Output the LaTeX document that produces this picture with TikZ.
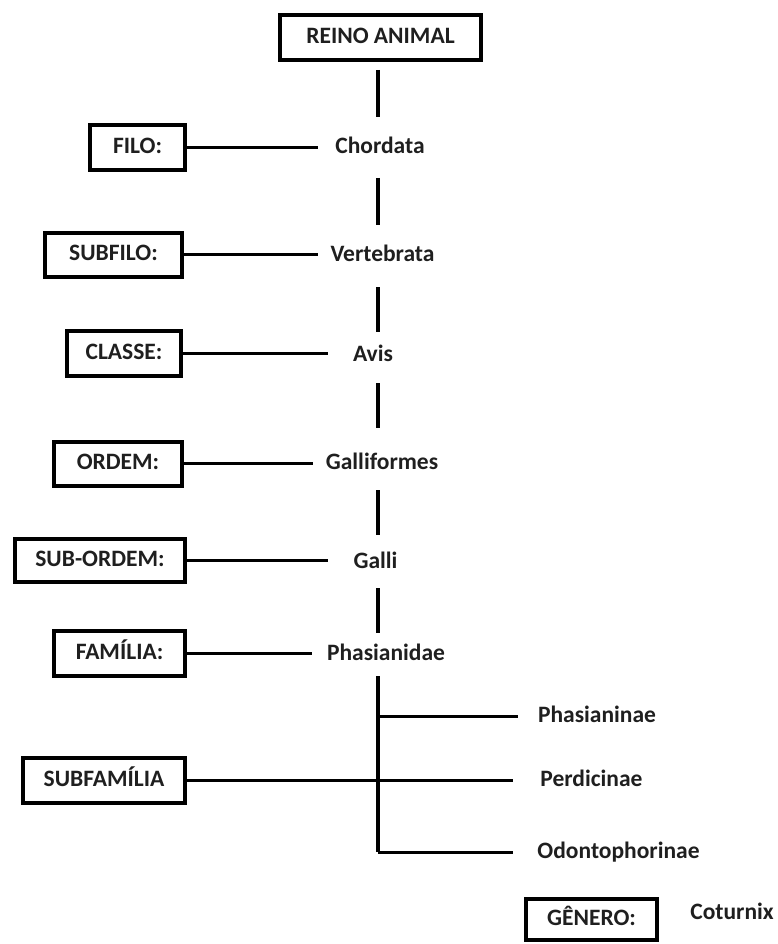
\documentclass[tikz,border=0pt]{standalone}
\usepackage{fontspec}
\setmainfont{Carlito}
\begin{document}
\begin{tikzpicture}[x=1pt,y=-1pt,
  every node/.style={font=\fontsize{23.5}{28}\selectfont\bfseries, text=black!88},
  rank/.style={draw=black, line width=4pt, inner sep=0pt, text height=17pt, text depth=5pt},
  taxon/.style={inner sep=0pt, text height=17pt, text depth=5pt},
  vlink/.style={line width=4pt},
  hlink/.style={line width=3pt}]
\useasboundingbox[fill=white] (0,0) rectangle (777,944);
\coordinate (axis) at (377.5,0);
% rank boxes
\node[rank, minimum width=201pt, minimum height=45pt] (reino) at (380.5,37.5) {REINO ANIMAL};
\node[rank, minimum width=95pt, minimum height=45pt] (filo) at (137.5,148) {FILO:};
\node[rank, minimum width=137pt, minimum height=44pt] (subfilo) at (113.5,254.5) {SUBFILO:};
\node[rank, minimum width=114pt, minimum height=45pt] (classe) at (124,353) {CLASSE:};
\node[rank, minimum width=128pt, minimum height=44pt] (ordem) at (118,463.5) {ORDEM:};
\node[rank, minimum width=170pt, minimum height=43pt] (subordem) at (100,560) {SUB-ORDEM:};
\node[rank, minimum width=131pt, minimum height=45pt] (familia) at (119.5,653) {FAMÍLIA:};
\node[rank, minimum width=162pt, minimum height=45pt] (subfamilia) at (104,780) {SUBFAMÍLIA};
\node[rank, minimum width=131pt, minimum height=41pt] (genero) at (591.5,919.5) {GÊNERO:};
% taxa
\node[taxon] (chordata) at (380,148) {Chordata};
\node[taxon] (vertebrata) at (382.5,255) {Vertebrata};
\node[taxon] (avis) at (373,355) {Avis};
\node[taxon] (galliformes) at (382,463) {Galliformes};
\node[taxon] (galli) at (375.5,562) {Galli};
\node[taxon] (phasianidae) at (386,654) {Phasianidae};
\node[taxon] (phasianinae) at (597,716) {Phasianinae};
\node[taxon] (perdicinae) at (591.5,780) {Perdicinae};
\node[taxon] (odonto) at (618.5,852) {Odontophorinae};
\node[taxon] (coturnix) at (732,913) {Coturnix};
% vertical trunk segments
\draw[vlink, shorten <=8pt, shorten >=31pt] (reino.south -| axis) -- (chordata.center -| axis);
\draw[vlink, shorten <=30pt, shorten >=30pt] (chordata.center -| axis) -- (vertebrata.center -| axis);
\draw[vlink, shorten <=32pt, shorten >=23pt] (vertebrata.center -| axis) -- (avis.center -| axis);
\draw[vlink, shorten <=28pt, shorten >=35pt] (avis.center -| axis) -- (galliformes.center -| axis);
\draw[vlink, shorten <=27pt, shorten >=27pt] (galliformes.center -| axis) -- (galli.center -| axis);
\draw[vlink, shorten <=26pt, shorten >=21pt] (galli.center -| axis) -- (phasianidae.center -| axis);
\draw[vlink, shorten <=22pt] (phasianidae.center -| axis) -- (odonto.center -| axis);
% horizontal links
\draw[hlink, shorten >=17pt] (filo.east) -- (filo.east -| chordata.west);
\draw[hlink, shorten >=12pt] (subfilo.east) -- (subfilo.east -| vertebrata.west);
\draw[hlink, shorten >=25pt] (classe.east) -- (classe.east -| avis.west);
\draw[hlink, shorten >=13pt] (ordem.east) -- (ordem.east -| galliformes.west);
\draw[hlink, shorten >=25pt] (subordem.east) -- (subordem.east -| galli.west);
\draw[hlink, shorten >=15pt] (familia.east) -- (familia.east -| phasianidae.west);
\draw[hlink, shorten >=20pt] (phasianinae.center -| axis) -- (phasianinae.west);
\draw[hlink, shorten >=27pt] (subfamilia.east) -- (subfamilia.east -| perdicinae.west);
\draw[hlink, shorten >=24pt] (odonto.center -| axis) -- (odonto.west);
\end{tikzpicture}
\end{document}
